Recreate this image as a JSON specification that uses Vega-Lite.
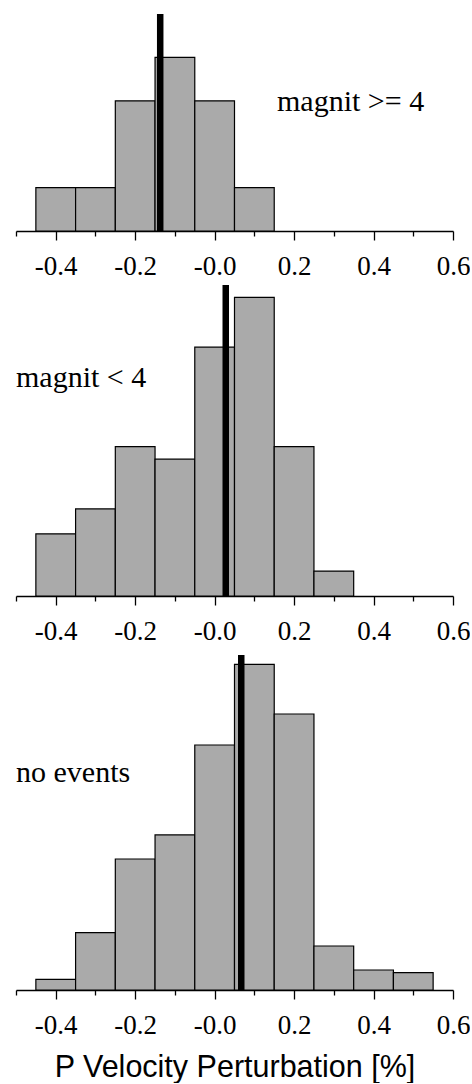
{
  "$schema": "https://vega.github.io/schema/vega-lite/v6.json",
  "padding": {"left": 15, "top": 10, "right": 0, "bottom": 0},
  "spacing": 2,
  "config": {
    "view": {"stroke": null},
    "style": {
      "guide-label": {"font": "Liberation Serif", "fontSize": 27, "fill": "black"},
      "guide-title": {"font": "Liberation Sans", "fontSize": 30.5, "fontWeight": "normal", "fill": "black"}
    },
    "axis": {
      "grid": false,
      "domainColor": "black",
      "domainWidth": 1.3,
      "tickColor": "black",
      "tickWidth": 1.3,
      "tickSize": 9,
      "labelColor": "black",
      "labelFont": "Liberation Serif",
      "labelFontSize": 27,
      "labelPadding": 13,
      "labelFlush": false,
      "labelOverlap": false,
      "titleFont": "Liberation Sans",
      "titleFontSize": 30.5,
      "titleFontWeight": "normal",
      "titleColor": "black"
    }
  },
  "datasets": {
    "bins": [
      {"panel": "A", "x0": -0.45, "x1": -0.35, "count": 1},
      {"panel": "A", "x0": -0.35, "x1": -0.25, "count": 1},
      {"panel": "A", "x0": -0.25, "x1": -0.15, "count": 3},
      {"panel": "A", "x0": -0.15, "x1": -0.05, "count": 4},
      {"panel": "A", "x0": -0.05, "x1": 0.05, "count": 3},
      {"panel": "A", "x0": 0.05, "x1": 0.15, "count": 1},
      {"panel": "B", "x0": -0.45, "x1": -0.35, "count": 5},
      {"panel": "B", "x0": -0.35, "x1": -0.25, "count": 7},
      {"panel": "B", "x0": -0.25, "x1": -0.15, "count": 12},
      {"panel": "B", "x0": -0.15, "x1": -0.05, "count": 11},
      {"panel": "B", "x0": -0.05, "x1": 0.05, "count": 20},
      {"panel": "B", "x0": 0.05, "x1": 0.15, "count": 24},
      {"panel": "B", "x0": 0.15, "x1": 0.25, "count": 12},
      {"panel": "B", "x0": 0.25, "x1": 0.35, "count": 2},
      {"panel": "C", "x0": -0.45, "x1": -0.35, "count": 1.15},
      {"panel": "C", "x0": -0.35, "x1": -0.25, "count": 6.16},
      {"panel": "C", "x0": -0.25, "x1": -0.15, "count": 14.08},
      {"panel": "C", "x0": -0.15, "x1": -0.05, "count": 16.66},
      {"panel": "C", "x0": -0.05, "x1": 0.05, "count": 26.33},
      {"panel": "C", "x0": 0.05, "x1": 0.15, "count": 35.0},
      {"panel": "C", "x0": 0.15, "x1": 0.25, "count": 29.66},
      {"panel": "C", "x0": 0.25, "x1": 0.35, "count": 4.73},
      {"panel": "C", "x0": 0.35, "x1": 0.45, "count": 2.15},
      {"panel": "C", "x0": 0.45, "x1": 0.55, "count": 1.86}
    ],
    "means": [
      {"panel": "A", "mean": -0.137, "top": 5},
      {"panel": "B", "mean": 0.028, "top": 25},
      {"panel": "C", "mean": 0.067, "top": 36}
    ],
    "notes": [
      {"panel": "A", "x": 0.157, "y": 2.77, "label": "magnit >= 4"},
      {"panel": "B", "x": -0.5, "y": 16.8, "label": "magnit < 4"},
      {"panel": "C", "x": -0.5, "y": 22.3, "label": "no events"}
    ]
  },
  "vconcat": [
    {
      "width": 437,
      "height": 217,
      "resolve": {"axis": {"x": "independent"}},
      "layer": [
        {
          "data": {"name": "bins"},
          "transform": [{"filter": "datum.panel == 'A'"}],
          "mark": {"type": "rect", "fill": "#aaaaaa", "stroke": "black", "strokeWidth": 1.2},
          "encoding": {
            "x": {"field": "x0", "type": "quantitative", "scale": {"domain": [-0.5, 0.6], "nice": false, "zero": false},
              "axis": {"title": null, "orient": "bottom", "values": [-0.4, -0.2, 0, 0.2, 0.4, 0.6],
                "labelFont": "Liberation Serif", "labelFontSize": 27,
                "labelExpr": "(datum.value <= 0 ? '-' : '') + format(abs(datum.value), '.1f')"}},
            "x2": {"field": "x1"},
            "y": {"field": "count", "type": "quantitative", "scale": {"domain": [0, 5], "nice": false}, "axis": null},
            "y2": {"datum": 0}
          }
        },
        {
          "data": {"name": "means"},
          "transform": [{"filter": "datum.panel == 'A'"}],
          "mark": {"type": "rule", "strokeWidth": 6.5, "color": "black"},
          "encoding": {
            "x": {"field": "mean", "type": "quantitative",
              "axis": {"title": null, "orient": "bottom", "values": [-0.5, -0.3, -0.1, 0.1, 0.3, 0.5], "labels": false, "domain": false, "tickSize": 5}},
            "y": {"field": "top", "type": "quantitative"},
            "y2": {"datum": 0}
          }
        },
        {
          "data": {"name": "notes"},
          "transform": [{"filter": "datum.panel == 'A'"}],
          "mark": {"type": "text", "align": "left", "baseline": "alphabetic", "font": "Liberation Serif", "fontSize": 30, "color": "black"},
          "encoding": {
            "x": {"field": "x", "type": "quantitative", "axis": null},
            "y": {"field": "y", "type": "quantitative"},
            "text": {"field": "label"}
          }
        }
      ]
    },
    {
      "width": 437,
      "height": 311,
      "resolve": {"axis": {"x": "independent"}},
      "layer": [
        {
          "data": {"name": "bins"},
          "transform": [{"filter": "datum.panel == 'B'"}],
          "mark": {"type": "rect", "fill": "#aaaaaa", "stroke": "black", "strokeWidth": 1.2},
          "encoding": {
            "x": {"field": "x0", "type": "quantitative", "scale": {"domain": [-0.5, 0.6], "nice": false, "zero": false},
              "axis": {"title": null, "orient": "bottom", "values": [-0.4, -0.2, 0, 0.2, 0.4, 0.6],
                "labelFont": "Liberation Serif", "labelFontSize": 27, "minExtent": 53, "maxExtent": 53,
                "labelExpr": "(datum.value <= 0 ? '-' : '') + format(abs(datum.value), '.1f')"}},
            "x2": {"field": "x1"},
            "y": {"field": "count", "type": "quantitative", "scale": {"domain": [0, 25], "nice": false}, "axis": null},
            "y2": {"datum": 0}
          }
        },
        {
          "data": {"name": "means"},
          "transform": [{"filter": "datum.panel == 'B'"}],
          "mark": {"type": "rule", "strokeWidth": 6.5, "color": "black"},
          "encoding": {
            "x": {"field": "mean", "type": "quantitative",
              "axis": {"title": null, "orient": "bottom", "values": [-0.5, -0.3, -0.1, 0.1, 0.3, 0.5], "labels": false, "domain": false, "tickSize": 5}},
            "y": {"field": "top", "type": "quantitative"},
            "y2": {"datum": 0}
          }
        },
        {
          "data": {"name": "notes"},
          "transform": [{"filter": "datum.panel == 'B'"}],
          "mark": {"type": "text", "align": "left", "baseline": "alphabetic", "font": "Liberation Serif", "fontSize": 30, "color": "black"},
          "encoding": {
            "x": {"field": "x", "type": "quantitative", "axis": null},
            "y": {"field": "y", "type": "quantitative"},
            "text": {"field": "label"}
          }
        }
      ]
    },
    {
      "width": 437,
      "height": 335,
      "resolve": {"axis": {"x": "independent"}},
      "layer": [
        {
          "data": {"name": "bins"},
          "transform": [{"filter": "datum.panel == 'C'"}],
          "mark": {"type": "rect", "fill": "#aaaaaa", "stroke": "black", "strokeWidth": 1.2},
          "encoding": {
            "x": {"field": "x0", "type": "quantitative", "scale": {"domain": [-0.5, 0.6], "nice": false, "zero": false},
              "axis": {"title": "P Velocity Perturbation [%]", "orient": "bottom", "values": [-0.4, -0.2, 0, 0.2, 0.4, 0.6],
                "labelFont": "Liberation Serif", "labelFontSize": 27,
                "titleFont": "Liberation Sans", "titleFontSize": 30.5, "titleBaseline": "alphabetic", "titlePadding": 38,
                "labelExpr": "(datum.value <= 0 ? '-' : '') + format(abs(datum.value), '.1f')"}},
            "x2": {"field": "x1"},
            "y": {"field": "count", "type": "quantitative", "scale": {"domain": [0, 36], "nice": false}, "axis": null},
            "y2": {"datum": 0}
          }
        },
        {
          "data": {"name": "means"},
          "transform": [{"filter": "datum.panel == 'C'"}],
          "mark": {"type": "rule", "strokeWidth": 6.5, "color": "black"},
          "encoding": {
            "x": {"field": "mean", "type": "quantitative",
              "axis": {"title": null, "orient": "bottom", "values": [-0.5, -0.3, -0.1, 0.1, 0.3, 0.5], "labels": false, "domain": false, "tickSize": 5}},
            "y": {"field": "top", "type": "quantitative"},
            "y2": {"datum": 0}
          }
        },
        {
          "data": {"name": "notes"},
          "transform": [{"filter": "datum.panel == 'C'"}],
          "mark": {"type": "text", "align": "left", "baseline": "alphabetic", "font": "Liberation Serif", "fontSize": 30, "color": "black"},
          "encoding": {
            "x": {"field": "x", "type": "quantitative", "axis": null},
            "y": {"field": "y", "type": "quantitative"},
            "text": {"field": "label"}
          }
        }
      ]
    }
  ]
}
